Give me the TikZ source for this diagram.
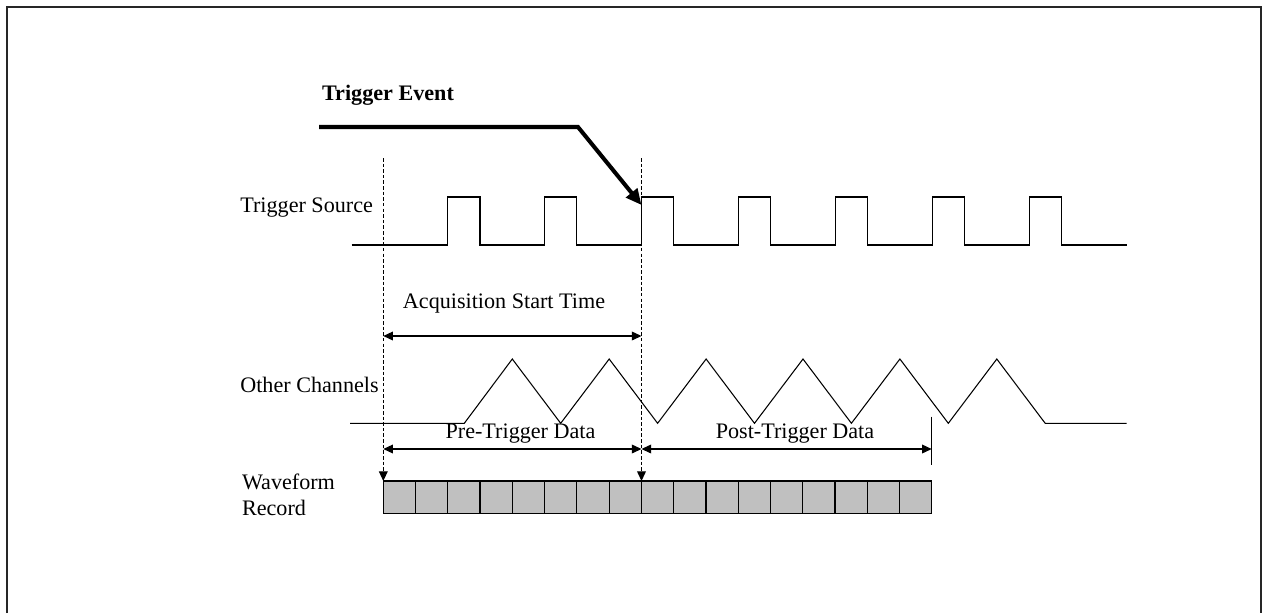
\documentclass[tikz,border=0pt]{standalone}
\usepackage{fontspec}
\setmainfont{Liberation Serif}
\usetikzlibrary{arrows.meta}
\pgfdeclarelayer{background}
\pgfdeclarelayer{foreground}
\pgfsetlayers{background,main,foreground}
\tikzset{
  wave/.style={line width=0.6pt, line join=miter},
  marker/.style={line width=0.6pt, dash pattern=on 2pt off 1.2pt, -{Triangle[length=5.5pt,width=5pt]}},
  span/.style={line width=0.6pt, {Triangle[length=5.5pt,width=5pt]}-{Triangle[length=5.5pt,width=5pt]}},
  lbl/.style={font=\fontsize{12.6}{14.7}\selectfont, inner sep=0pt}
}

\begin{document}
\begin{tikzpicture}[x=0.02cm, y=-0.02cm]
\useasboundingbox (0,0) rectangle (1262,613);
\draw[line width=0.8pt, black!85] (7,613) -- (7,7) -- (1261,7) -- (1261,613);

% key positions
\coordinate (start) at (383.3,158);
\coordinate (trig) at (641.5,158);
\coordinate (startRec) at (383.3,481);
\coordinate (trigRec) at (641.5,481);
\coordinate (endRec) at (931.7,481);

\begin{pgfonlayer}{background}
\draw[marker] (start) -- (startRec);
\draw[marker] (trig) -- (trigRec);
\end{pgfonlayer}

% trigger event
\node[lbl, font=\fontsize{12.6}{14.7}\selectfont\bfseries] (event) at (388,95) {Trigger Event};
\coordinate (eventA) at (319,127);
\coordinate (eventB) at (578,127);
\coordinate (eventTip) at (641.5,205);
\draw[line width=2.3pt, -{Triangle[length=9pt,width=8pt]}] (eventA) -- (eventB) -- (eventTip);

% trigger source
\node[lbl, anchor=west] (src) at (240,208) {Trigger Source};
\draw[wave] (351.7,245) foreach \r in {447.7,544.6,641.5,738.5,835.4,932.3,1029.2} {
  -- (\r,245) -- (\r,197) -- ({\r+32.3},197) -- ({\r+32.3},245) } -- (1126.7,245);

% acquisition start time
\node[lbl] (acq) at (504,304) {Acquisition Start Time};
\draw[span] (383.3,336) coordinate (acqL) -- (641.5,336) coordinate (acqR);

% other channels
\node[lbl, anchor=west] (other) at (240,385) {Other Channels};
\draw[wave] (350,423.3) -- (464.3,423.3) foreach \p in {512.3,609.2,706.1,803,899.9,996.8} {
  -- (\p,359) -- ({\p+48.4},423.3) } -- (1126.7,423.3);

% pre / post trigger data
\node[lbl] (pre) at (520.5,433.3) {Pre-Trigger Data};
\node[lbl] (post) at (795,433.3) {Post-Trigger Data};
\coordinate (preL) at (383.3,449);
\coordinate (mid) at (641.5,449);
\coordinate (postR) at (931.7,449);
\draw[span] (preL) -- (mid);
\draw[span] (mid) -- (postR);
\draw[line width=0.6pt] (931.7,416.7) -- (931.7,465);

% waveform record
\node[lbl, anchor=west, align=left] (rec) at (241.7,494.7) {Waveform\\Record};
\draw[line width=0.7pt, fill={rgb,255:red,192;green,192;blue,192}] (startRec) rectangle (931.7,513.3);
\foreach \i in {1,...,16}
  \draw[line width=0.7pt] ({383.3+\i*32.261},481) -- ({383.3+\i*32.261},513.3);
\end{tikzpicture}
\end{document}
